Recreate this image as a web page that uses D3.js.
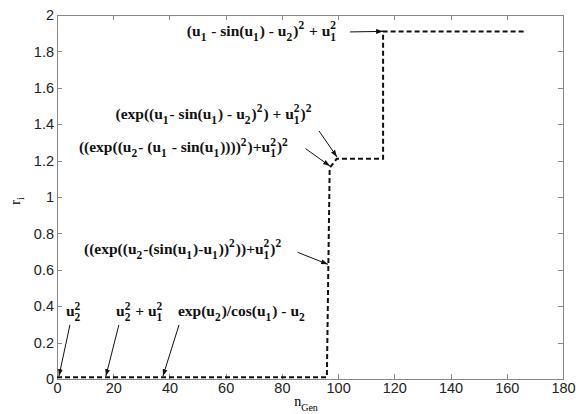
<!DOCTYPE html>
<meta charset="utf-8">
<script src="https://cdn.jsdelivr.net/npm/d3@7"></script>
<style>
    body { margin: 0; background: #fff; }
    .axis path, .axis line { fill: none; stroke: #888; stroke-width: 1; shape-rendering: crispEdges; }
    .axis text { font-family: "Liberation Sans", Arial, sans-serif; font-size: 14.5px; fill: #222; }
    .ann { font-family: "Liberation Serif", "Times New Roman", serif; font-weight: bold; fill: #111; }
    .ann text { white-space: pre; }
</style>
<body>
<div id="chart"></div>
<script>

    // step curve of r_i against n_Gen
    var stepX = [0, 96, 97, 99.5, 116, 116, 167]
    var stepY = [0.01, 0.01, 1.16, 1.21, 1.21, 1.91, 1.91]

    var xTicks = [0, 20, 40, 60, 80, 100, 120, 140, 160, 180]
    var yTicks = [0, 0.2, 0.4, 0.6, 0.8, 1, 1.2, 1.4, 1.6, 1.8, 2]

    // annotation labels (_x subscript, ^x superscript) and the points they mark
    var annLabels = [
        "(u_1 - sin(u_1) - u_2)^2 + u_1^2",
        "(exp((u_1- sin(u_1) - u_2)^2) + u_1^2)^2",
        "((exp((u_2- (u_1 - sin(u_1))))^2)+u_1^2)^2",
        "((exp((u_2-(sin(u_1)-u_1))^2))+u_1^2)^2",
        "u_2^2",
        "u_2^2 + u_1^2",
        "exp(u_2)/cos(u_1) - u_2"
    ]
    var annTipX = [116, 99.6, 97.1, 96.4, 0.7, 17.4, 37.7]
    var annTipY = [1.91, 1.22, 1.17, 0.63, 0.016, 0.016, 0.016]

    var margin = {top: 15, right: 24, bottom: 35, left: 57}
    var W = 587, H = 414
    var w = W - margin.left - margin.right
    var h = H - margin.top - margin.bottom

    // where each label sits and where its arrow starts (data units)
    var textPos = [[46.2, 1.885], [20.8, 1.429], [7.8, 1.247], [9.6, 0.687], [3.2, 0.346], [21, 0.346], [43, 0.346]]
    var arrowFrom = [[104.2, 1.907], [93.2, 1.363], [88.4, 1.266], [85.6, 0.696], [4.6, 0.297], [22, 0.297], [43.4, 0.297]]

    var svg = d3.select("#chart").append("svg").attr("width", W).attr("height", H)
    svg.append("rect").attr("width", W).attr("height", H).attr("fill", "#fff")

    var defs = svg.append("defs")
    defs.append("marker").attr("id", "arr").attr("viewBox", "0 0 10 10").attr("refX", 10).attr("refY", 5)
        .attr("markerWidth", 7).attr("markerHeight", 7).attr("orient", "auto-start-reverse")
        .append("path").attr("d", "M0,1.5 L10,5 L0,8.5 z").attr("fill", "#111")

    var g = svg.append("g").attr("transform", "translate(" + margin.left + "," + margin.top + ")")

    var x = d3.scaleLinear().domain([0, 180]).range([0, w])
    var y = d3.scaleLinear().domain([0, 2]).range([h, 0])

    var fmt = (d) => String(+d.toFixed(1))

    g.append("g").attr("class", "axis").attr("transform", "translate(0," + h + ")")
        .call(d3.axisBottom(x).tickValues(xTicks).tickFormat(fmt).tickSizeInner(-5).tickSizeOuter(0).tickPadding(4))
    g.append("g").attr("class", "axis")
        .call(d3.axisLeft(y).tickValues(yTicks).tickFormat(fmt).tickSizeInner(-5).tickSizeOuter(0).tickPadding(3))
    g.append("g").attr("class", "axis")
        .call(d3.axisTop(x).tickValues(xTicks).tickFormat("").tickSizeInner(-5).tickSizeOuter(0))
    g.append("g").attr("class", "axis").attr("transform", "translate(" + w + ",0)")
        .call(d3.axisRight(y).tickValues(yTicks).tickFormat("").tickSizeInner(-5).tickSizeOuter(0))

    var pts = stepX.map((d, i) => [d, stepY[i]])
    g.append("path").datum(pts)
        .attr("d", d3.line().x((d) => x(d[0])).y((d) => y(d[1])))
        .attr("fill", "none").attr("stroke", "#111").attr("stroke-width", 2).attr("stroke-dasharray", "5,3")

    // writes a label with sub/superscripts, stacking u_1^2 like the original
    function drawLabel(parent, str, px, py, size) {
        var t = parent.append("g").attr("class", "ann")
        var cx = px
        var small = size * 0.74
        var i = 0
        function piece(s, fs, dy) {
            var el = t.append("text").attr("x", cx).attr("y", py + dy).style("font-size", fs + "px").text(s)
            return el.node().getComputedTextLength()
        }
        var buf = ""
        while (i < str.length) {
            var c = str[i]
            if (c == "_" || c == "^") {
                if (buf) { cx += piece(buf, size, 0); buf = "" }
                var wSub = 0, wSup = 0
                if (c == "_") {
                    wSub = piece(str[i + 1], small, size * 0.3)
                    i += 2
                    if (str[i] == "^") { wSup = piece(str[i + 1], small, -size * 0.42); i += 2 }
                } else {
                    wSup = piece(str[i + 1], small, -size * 0.42)
                    i += 2
                }
                cx += Math.max(wSub, wSup) + 1
            } else {
                buf += c
                i++
            }
        }
        if (buf) cx += piece(buf, size, 0)
    }

    annLabels.forEach((lab, i) => {
        drawLabel(g, lab, x(textPos[i][0]), y(textPos[i][1]), 15.5)
        g.append("line")
            .attr("x1", x(arrowFrom[i][0])).attr("y1", y(arrowFrom[i][1]))
            .attr("x2", x(annTipX[i])).attr("y2", y(annTipY[i]))
            .attr("stroke", "#111").attr("stroke-width", 1).attr("marker-end", "url(#arr)")
    })

    // axis titles
    var xl = svg.append("text").attr("x", margin.left + w / 2 - 4).attr("y", 406)
        .style("font-family", "Liberation Serif, serif").style("font-size", "14px").attr("text-anchor", "middle")
    xl.append("tspan").text("n")
    xl.append("tspan").attr("dy", 5).style("font-size", "10px").text("Gen")

    var yl = svg.append("text").attr("transform", "translate(20," + (margin.top + h / 2 + 4) + ") rotate(-90)")
        .style("font-family", "Liberation Serif, serif").style("font-size", "14px").attr("text-anchor", "middle")
    yl.append("tspan").text("r")
    yl.append("tspan").attr("dy", 4).style("font-size", "10px").text("i")

</script>
</body>
</html>
